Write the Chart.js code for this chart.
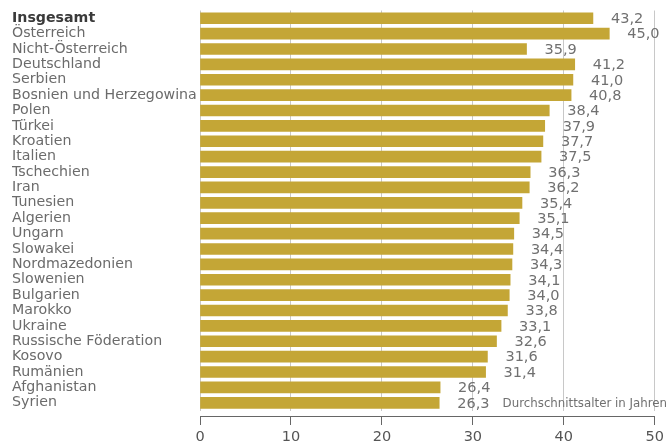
<!DOCTYPE html>
<html>
<head>
<meta charset="utf-8">
<script src="https://cdn.jsdelivr.net/npm/chart.js@4.4.1/dist/chart.umd.min.js"></script>
<style>
  html, body { margin: 0; padding: 0; background: #fff; }
  #wrap { width: 668px; height: 443px; }
</style>
</head>
<body>
<div id="wrap"><canvas id="ageChart" width="668" height="443"></canvas></div>
<script>
const countries = [
  "Insgesamt", "Österreich", "Nicht-Österreich", "Deutschland", "Serbien",
  "Bosnien und Herzegowina", "Polen", "Türkei", "Kroatien", "Italien",
  "Tschechien", "Iran", "Tunesien", "Algerien", "Ungarn", "Slowakei",
  "Nordmazedonien", "Slowenien", "Bulgarien", "Marokko", "Ukraine",
  "Russische Föderation", "Kosovo", "Rumänien", "Afghanistan", "Syrien"
];
const ages = [
  43.2, 45.0, 35.9, 41.2, 41.0,
  40.8, 38.4, 37.9, 37.7, 37.5,
  36.3, 36.2, 35.4, 35.1, 34.5, 34.4,
  34.3, 34.1, 34.0, 33.8, 33.1,
  32.6, 31.6, 31.4, 26.4, 26.3
];
const xTicks = [0, 10, 20, 30, 40, 50];
const unitNote = "Durchschnittsalter in Jahren";

const FONT = "'DejaVu Sans', sans-serif";
const barColor = "#c4a636";

// value labels next to the bars + unit note
const valueLabels = {
  id: "valueLabels",
  afterDatasetsDraw(chart) {
    const ctx = chart.ctx;
    const meta = chart.getDatasetMeta(0);
    ctx.save();
    ctx.font = "14.5px " + FONT;
    ctx.fillStyle = "#707070";
    ctx.textBaseline = "middle";
    ctx.textAlign = "left";
    meta.data.forEach((bar, i) => {
      ctx.fillText(ages[i].toFixed(1).replace(".", ","), bar.x + 18, bar.y + 1);
    });
    const last = meta.data[meta.data.length - 1];
    ctx.font = "11.8px " + FONT;
    ctx.textAlign = "right";
    ctx.fillText(unitNote, chart.width - 1, last.y + 1);
    ctx.restore();
  }
};

new Chart(document.getElementById("ageChart"), {
  type: "bar",
  data: {
    labels: countries,
    datasets: [{
      data: ages,
      backgroundColor: barColor,
      barThickness: 11
    }]
  },
  options: {
    indexAxis: "y",
    responsive: false,
    devicePixelRatio: 1,
    animation: false,
    layout: { padding: { left: 12, right: 13, top: 7, bottom: 0 } },
    plugins: {
      legend: { display: false },
      tooltip: { enabled: false }
    },
    scales: {
      y: {
        type: "category",
        position: "left",
        grid: { display: false },
        border: { display: false },
        ticks: {
          crossAlign: "far",
          padding: 2,
          autoSkip: false,
          font: (c) => c.index === 0
            ? { family: FONT, size: 14.2, weight: "bold" }
            : { family: FONT, size: 14.2 },
          color: (c) => c.index === 0 ? "#3a3a3a" : "#6b6b6b"
        },
        afterFit: (s) => { s.width = 188; }
      },
      x: {
        position: "bottom",
        weight: 1,
        min: 0,
        max: 50,
        grid: { color: "#c8c8c8", lineWidth: 1, drawTicks: false },
        border: { display: false },
        ticks: { display: false, stepSize: 10 },
        afterFit: (s) => { s.height = 5.5; }
      },
      x2: {
        type: "linear",
        position: "bottom",
        weight: 2,
        min: 0,
        max: 50,
        grid: { drawOnChartArea: false, tickLength: 9, color: "#666" },
        border: { display: true, color: "#666", width: 1 },
        afterBuildTicks: (s) => { s.ticks = xTicks.map(v => ({ value: v })); },
        ticks: {
          padding: 4,
          font: { family: FONT, size: 14.5 },
          color: "#555"
        },
        afterFit: (s) => { s.height = 27; }
      }
    }
  },
  plugins: [valueLabels]
});
</script>
</body>
</html>
